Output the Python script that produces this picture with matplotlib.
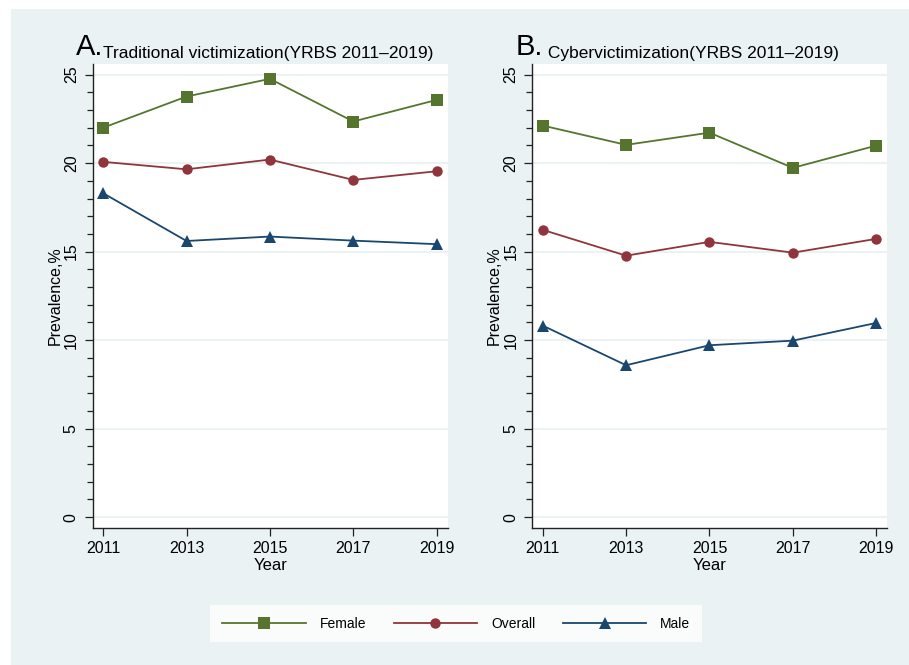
import matplotlib.pyplot as plt
from matplotlib.lines import Line2D

plt.rcParams['font.family'] = ['Liberation Sans', 'DejaVu Sans']

years = [2011, 2013, 2015, 2017, 2019]

# Traditional victimization (YRBS)
trad_female = [22.0, 23.76, 24.76, 22.35, 23.57]
trad_overall = [20.07, 19.65, 20.2, 19.05, 19.54]
trad_male = [18.3, 15.6, 15.85, 15.62, 15.42]

# Cybervictimization (YRBS)
cyber_female = [22.12, 21.03, 21.72, 19.73, 20.99]
cyber_overall = [16.23, 14.77, 15.55, 14.94, 15.72]
cyber_male = [10.82, 8.58, 9.71, 9.97, 10.97]

panel_letters = ['A.', 'B.']
panel_titles = ['Traditional victimization(YRBS 2011\u20132019)',
                ' Cybervictimization(YRBS 2011\u20132019)']
series_names = ['Female', 'Overall', 'Male']

bg = '#eaf2f3'
green = '#55752f'
maroon = '#90353b'
navy = '#1a476f'
styles = [(green, 's', 8), (maroon, 'o', 7.5), (navy, '^', 9)]

fig = plt.figure(figsize=(9.09, 6.65), dpi=100, facecolor='white')
# light panel behind the whole graph, with a thin white margin at left/top
fig.patches.append(plt.Rectangle((0.012, 0), 0.988, 0.986, transform=fig.transFigure,
                                 facecolor=bg, edgecolor='none', zorder=-10))

panels = [(trad_female, trad_overall, trad_male),
          (cyber_female, cyber_overall, cyber_male)]
lefts = [0.102, 0.5856]

for i, data in enumerate(panels):
    ax = fig.add_axes([lefts[i], 0.2056, 0.3903, 0.6982])
    ax.set_facecolor('white')
    for vals, (col, mk, ms) in zip(data, styles):
        ax.plot(years, vals, color=col, marker=mk, markersize=ms, linewidth=1.3,
                markeredgewidth=0, zorder=3)

    ax.set_xlim(2010.75, 2019.26)
    ax.set_ylim(-0.63, 25.6)
    ax.set_xticks(years)
    ax.set_yticks([0, 5, 10, 15, 20, 25])
    ax.set_yticks(range(0, 26), minor=True)
    ax.grid(axis='y', which='major', color=bg, linewidth=1.5, zorder=0)
    ax.set_axisbelow(True)

    for s in ['top', 'right']:
        ax.spines[s].set_visible(False)
    for s in ['left', 'bottom']:
        ax.spines[s].set_color('#222222')
        ax.spines[s].set_linewidth(1.0)

    ax.tick_params(axis='both', which='major', length=6, width=0.9, color='#222222',
                   labelsize=11.5, labelcolor='black')
    ax.tick_params(axis='y', which='minor', length=4, width=0.9, color='#222222')
    ax.tick_params(axis='y', pad=4)
    for lbl in ax.get_yticklabels():
        lbl.set_rotation(90)
        lbl.set_va('center')

    ax.set_xlabel('Year', fontsize=12, labelpad=1)
    ax.set_ylabel('Prevalence,%', fontsize=11.5, labelpad=1)

    # two-part panel title: big letter, then the description
    t1 = ax.text(-0.047, 1.02, panel_letters[i], transform=ax.transAxes,
                 fontsize=21, va='baseline', ha='left')
    ax.annotate(panel_titles[i], xy=(1, 0), xycoords=t1, va='bottom', ha='left',
                fontsize=12.5)

handles = [Line2D([], [], color=c, marker=m, markersize=ms, linewidth=1.3,
                  markeredgewidth=0) for c, m, ms in styles]
leg = fig.legend(handles, series_names, loc='center', bbox_to_anchor=(0.502, 0.0624),
                 ncol=3, frameon=True, fontsize=10, handlelength=6.0,
                 handletextpad=1.0, columnspacing=2.0, numpoints=1,
                 borderpad=0.85, fancybox=False)
leg.get_frame().set_facecolor('white')
leg.get_frame().set_edgecolor('white')
leg.get_frame().set_linewidth(0)

fig.savefig('out.png', dpi=100, facecolor='white')
